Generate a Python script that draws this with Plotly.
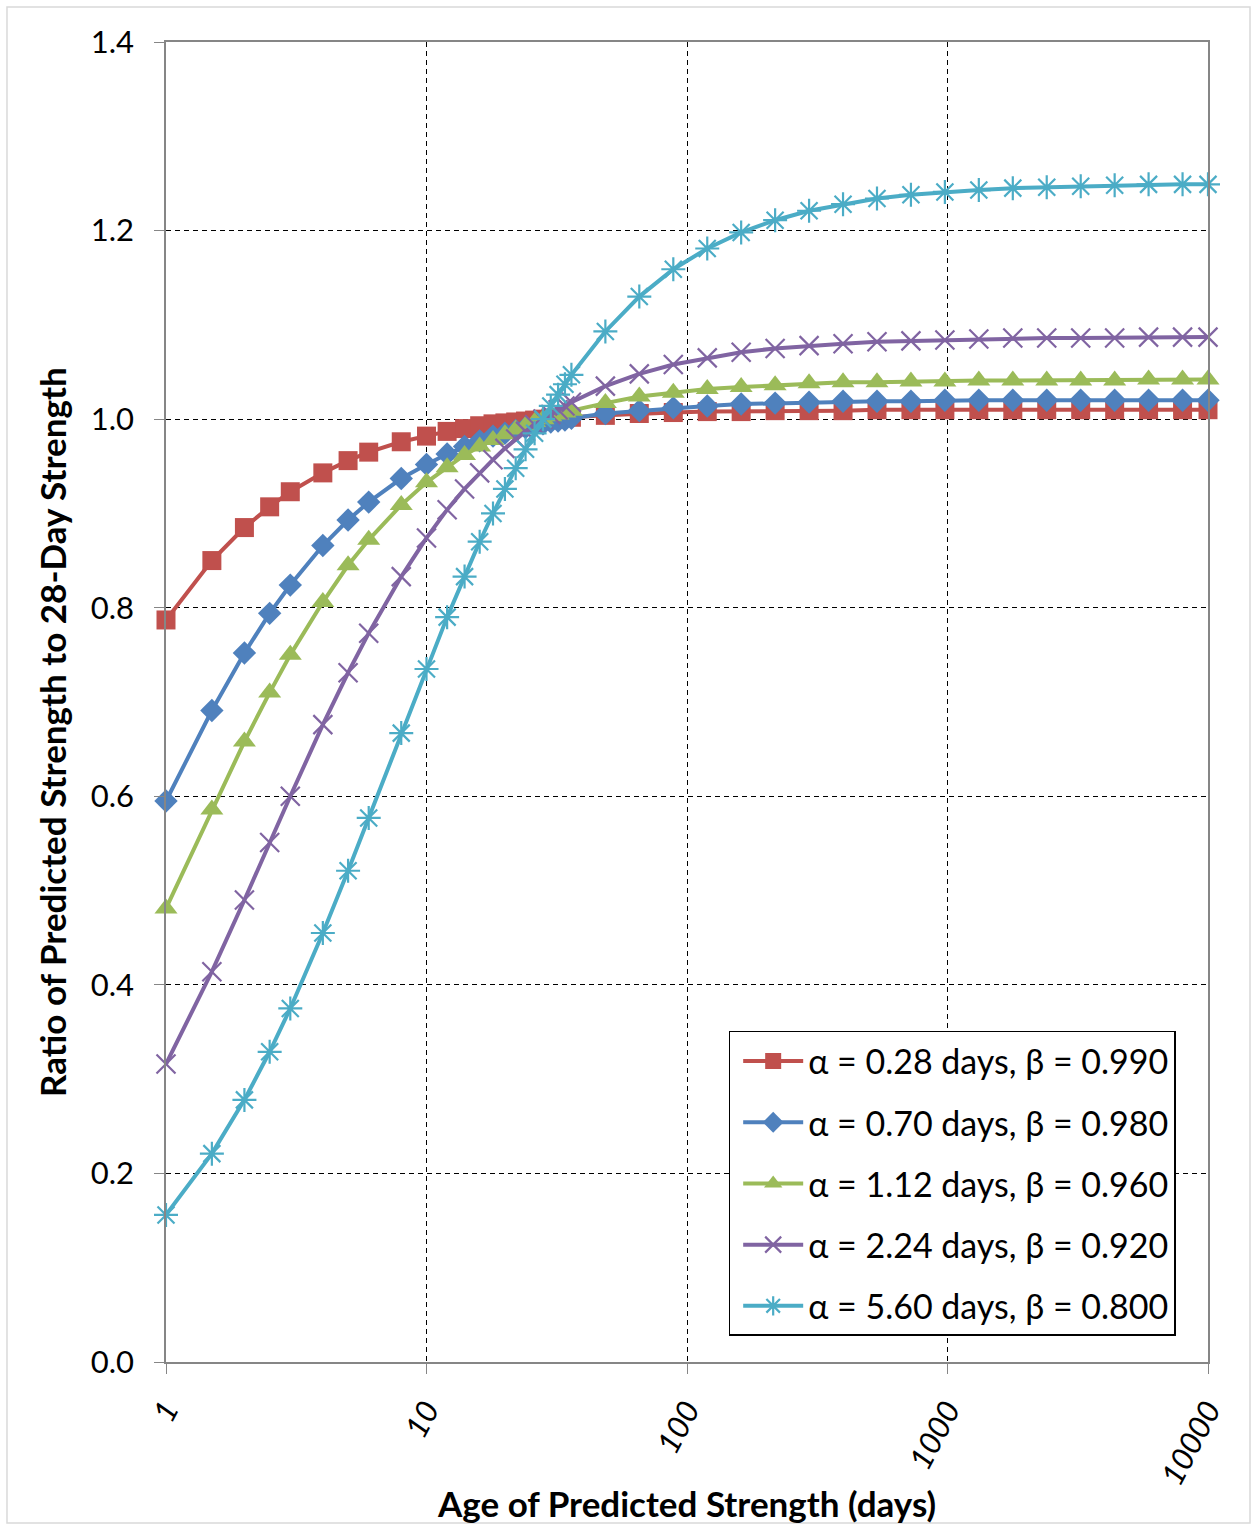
import plotly.graph_objects as go

# Age of predicted strength (days)
age_days = [1, 1.5, 2, 2.5, 3, 4, 5, 6, 8, 10, 12, 14, 16, 18, 20, 22, 24, 26, 28,
            30, 32, 34, 36, 48.6, 65.6, 88.6, 119.6, 161.4, 217.9, 294.2, 397.2,
            536.2, 723.8, 977.2, 1319, 1781, 2404, 3246, 4382, 5915, 7986, 10000]

# Ratio of predicted strength to 28-day strength, one list per curve
ratio_a028 = [0.787, 0.850, 0.885, 0.907, 0.923, 0.943, 0.956, 0.965, 0.976, 0.982,
              0.987, 0.990, 0.993, 0.995, 0.996, 0.997, 0.998, 0.999, 1.000,
              1.001, 1.001, 1.002, 1.002, 1.004, 1.006, 1.007, 1.008, 1.008, 1.009,
              1.009, 1.009, 1.010, 1.010, 1.010, 1.010, 1.010, 1.010, 1.010, 1.010,
              1.010, 1.010, 1.010]
ratio_a070 = [0.595, 0.691, 0.752, 0.794, 0.824, 0.866, 0.893, 0.912, 0.937, 0.952,
              0.963, 0.971, 0.977, 0.982, 0.985, 0.988, 0.991, 0.993, 0.995,
              0.997, 0.998, 0.999, 1.001, 1.006, 1.009, 1.012, 1.014, 1.016, 1.017,
              1.018, 1.019, 1.019, 1.019, 1.020, 1.020, 1.020, 1.020, 1.020, 1.020,
              1.020, 1.020, 1.020]
ratio_a112 = [0.481, 0.586, 0.658, 0.710, 0.750, 0.806, 0.845, 0.872, 0.909, 0.933,
              0.949, 0.962, 0.971, 0.978, 0.984, 0.989, 0.993, 0.997, 1.000,
              1.003, 1.005, 1.007, 1.009, 1.017, 1.024, 1.028, 1.032, 1.034, 1.036,
              1.038, 1.039, 1.039, 1.040, 1.040, 1.041, 1.041, 1.041, 1.041, 1.041,
              1.042, 1.042, 1.042]
ratio_a224 = [0.316, 0.414, 0.490, 0.551, 0.600, 0.676, 0.731, 0.773, 0.833, 0.874,
              0.904, 0.926, 0.943, 0.957, 0.969, 0.979, 0.987, 0.994, 1.000,
              1.005, 1.010, 1.014, 1.018, 1.035, 1.048, 1.058, 1.065, 1.071, 1.075,
              1.078, 1.080, 1.082, 1.083, 1.084, 1.085, 1.086, 1.086, 1.086, 1.086,
              1.087, 1.087, 1.087]
ratio_a560 = [0.156, 0.221, 0.278, 0.329, 0.375, 0.455, 0.521, 0.577, 0.667, 0.735,
              0.790, 0.833, 0.870, 0.900, 0.926, 0.948, 0.968, 0.985, 1.000,
              1.014, 1.026, 1.037, 1.047, 1.093, 1.130, 1.159, 1.181, 1.198, 1.211,
              1.221, 1.228, 1.234, 1.238, 1.241, 1.243, 1.245, 1.246, 1.247, 1.248,
              1.249, 1.249, 1.249]

series_names = ["α = 0.28 days, β = 0.990", "α = 0.70 days, β = 0.980",
                "α = 1.12 days, β = 0.960", "α = 2.24 days, β = 0.920",
                "α = 5.60 days, β = 0.800"]
series_values = [ratio_a028, ratio_a070, ratio_a112, ratio_a224, ratio_a560]

colors = ["#C0504D", "#4F81BD", "#9BBB59", "#8064A2", "#4BACC6"]
symbols = ["square", "diamond", "triangle-up", "x-thin-open", "asterisk-open"]
sizes = [19, 18, 20, 19, 20]

x_ticks = [1, 10, 100, 1000, 10000]
x_tick_text = ["1", "10", "100", "1000", "10000"]

FONT = "Lato, 'Open Sans', sans-serif"

fig = go.Figure()
for i, (name, vals) in enumerate(zip(series_names, series_values)):
    c = colors[i]
    open_sym = symbols[i].endswith("open")
    fig.add_trace(go.Scatter(
        x=age_days, y=vals, name=name, mode="lines+markers",
        legendgroup=f"g{i}",
        cliponaxis=False,
        line=dict(color=c, width=4),
        marker=dict(symbol=symbols[i], size=sizes[i], color=c,
                    line=dict(color=c, width=2.2 if open_sym else 0)),
    ))

fig.update_xaxes(
    type="log", range=[0, 4],
    tickvals=x_ticks, ticktext=x_tick_text, tickangle=-62,
    tickfont=dict(family=FONT, size=31, color="#000000", style="italic"),
    ticks="outside", ticklen=10, tickcolor="#868686", ticklabelstandoff=6,
    showline=True, linecolor="#868686", linewidth=1.5, mirror=True,
    showgrid=True, gridcolor="#000000", gridwidth=1, griddash="5px,4px",
    zeroline=False,
)
fig.update_yaxes(
    range=[0, 1.4], dtick=0.2, tickformat=".1f",
    tickfont=dict(family=FONT, size=31, color="#000000"),
    ticks="outside", ticklen=10, tickcolor="#868686", ticklabelstandoff=14,
    showline=True, linecolor="#868686", linewidth=1.5, mirror=True,
    showgrid=True, gridcolor="#000000", gridwidth=1, griddash="5px,4px",
    zeroline=False,
)

fig.update_layout(
    width=1254, height=1526,
    margin=dict(l=166, r=46, t=42, b=164),
    paper_bgcolor="white", plot_bgcolor="white",
    font=dict(family=FONT, color="#000000"),
    showlegend=True,
    legend=dict(
        x=0.540, y=0.2508, xanchor="left", yanchor="top",
        bgcolor="white", bordercolor="#000000", borderwidth=1.5,
        font=dict(family=FONT, size=34, color="#000000"),
        itemwidth=60, tracegroupgap=14, traceorder="grouped",
        indentation=8,
    ),
    annotations=[
        dict(text="<b>Age of Predicted Strength (days)</b>", xref="paper", yref="paper",
             x=0.4995, y=-0.1070, xanchor="center", yanchor="middle", showarrow=False,
             font=dict(family=FONT, size=35, color="#000000")),
        dict(text="<b>Ratio of Predicted Strength to 28-Day Strength</b>", xref="paper",
             yref="paper", x=-0.1094, y=0.4773, xanchor="center", yanchor="middle",
             textangle=-90, showarrow=False,
             font=dict(family=FONT, size=35, color="#000000")),
    ],
    shapes=[
        dict(type="rect", xref="paper", yref="paper", x0=-0.1526, x1=1.0403,
             y0=-0.1220, y1=1.0265, line=dict(color="#D9D9D9", width=1.5),
             layer="below"),
    ],
)

fig.write_html("out.html")
